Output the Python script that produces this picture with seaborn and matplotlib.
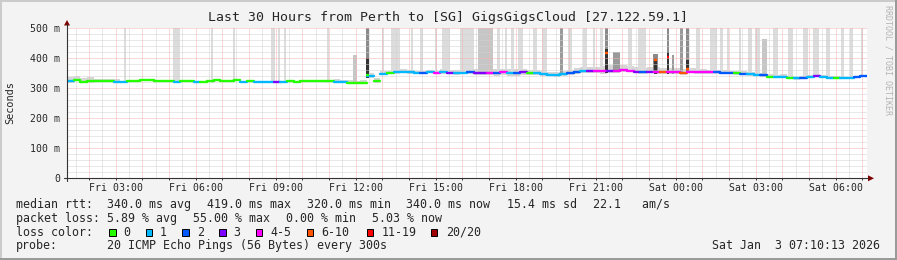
import numpy as np
import matplotlib
matplotlib.use("Agg")
import matplotlib.pyplot as plt
from matplotlib.patches import Rectangle, Polygon
from matplotlib.lines import Line2D
import seaborn as sns

# ---------------- data ----------------
T0 = 1 + 10 / 60 + 13 / 3600          # Fri 01:10:13, hours since Fri 00:00
SPAN_H = 30.0
STEP_H = 0.25                          # median sampled every 15 minutes

median_ms = [
    322, 326, 321, 322, 322, 322, 322, 321, 321, 322, 323, 327, 327, 323, 322, 322,
    320, 322, 322, 321, 321, 322, 327, 323, 322, 326, 320, 322, 320, 321, 320, 321,
    321, 322, 321, 322, 323, 322, 322, 322, 321, 320, 318, 317, 318, 340, 322, 348,
    350, 352, 354, 352, 350, 350, 353, 350, 352, 351, 350, 351, 355, 350, 350, 351,
    350, 352, 351, 350, 352, 350, 351, 347, 345, 344, 347, 350, 354, 356, 357, 356,
    356, 358, 358, 360, 358, 355, 352, 355, 353, 352, 352, 352, 350, 355, 354, 352,
    352, 352, 351, 350, 350, 348, 346, 344, 342, 338, 336, 338, 334, 332, 334, 336,
    340, 336, 334, 335, 334, 334, 336, 340]
loss_idx = [
    1, 0, 0, 0, 0, 0, 0, 1, 1, 0, 0, 0, 0, 0, 0, 0, 1, 0, 0, 1, 0, 0, 0, 0,
    0, 0, 1, 0, 1, 1, 1, 3, 1, 0, 0, 0, 0, 0, 0, 0, 1, 1, 0, 0, 0, 1, 0, 1,
    0, 1, 1, 1, 1, 2, 1, 4, 1, 3, 1, 1, 2, 3, 3, 4, 2, 4, 1, 2, 3, 0, 1, 1,
    1, 1, 1, 2, 2, 1, 3, 4, 4, 3, 4, 4, 4, 3, 2, 3, 4, 5, 4, 4, 5, 4, 4, 4,
    4, 2, 2, 2, 0, 2, 1, 1, 2, 0, 1, 1, 0, 1, 2, 1, 3, 1, 1, 0, 1, 1, 2, 2]
# hourly spread of the smoke around the median (ms above / below)
smoke_up = [14, 8, 4, 4, 3, 3, 3, 4, 3, 4, 8, 10, 8, 8, 10, 12, 12, 10, 10, 14,
            18, 14, 16, 12, 8, 8, 8, 6, 6, 4]
smoke_dn = [4, 3, 2, 2, 2, 2, 2, 2, 2, 2, 3, 5, 4, 4, 5, 6, 10, 8, 6, 6,
            8, 6, 6, 6, 4, 5, 4, 4, 3, 3]

# individual samples with outlier pings (smoke spikes)
spike_hour = [3.345, 5.277, 6.608, 7.433, 8.895, 9.120, 9.345, 10.946, 11.970, 12.439,
              13.020, 13.488, 14.107, 14.464, 15.008, 15.383, 16.170, 16.864, 17.351, 17.632,
              17.876, 18.176, 18.719, 19.076, 19.714, 20.033, 20.595, 20.933, 21.214, 21.401,
              21.776, 22.282, 22.732, 23.239, 23.707, 23.890, 24.213, 24.438, 24.832, 25.413,
              25.713, 25.957, 26.407, 26.782, 27.064, 27.326, 27.739, 28.301, 28.864, 29.258,
              29.708, 30.252, 30.590, 30.984]
spike_width_min = [5, 15, 5, 5, 10, 5, 5, 5, 10, 5,
                   5, 20, 5, 5, 5, 20, 30, 35, 5, 5,
                   5, 10, 10, 10, 5, 10, 10, 5, 5, 5,
                   15, 10, 20, 10, 5, 5, 5, 5, 10, 15,
                   5, 5, 5, 10, 10, 10, 10, 10, 10, 15,
                   10, 5, 5, 5]
spike_top = [520, 520, 520, 520, 520, 520, 520, 520, 410, 520,
             520, 520, 520, 520, 520, 520, 520, 520, 520, 520,
             520, 520, 520, 520, 520, 520, 520, 520, 520, 520,
             420, 520, 520, 415, 520, 410, 520, 520, 520, 520,
             520, 520, 520, 520, 520, 465, 520, 520, 520, 520,
             520, 520, 520, 520]
spike_shade = [0, 0, 0, 0, 0, 0, 0, 0, 1, 3,
               0, 0, 0, 0, 0, 0, 0, 1, 0, 0,
               0, 0, 0, 0, 2, 0, 0, 0, 0, 3,
               2, 0, 0, 3, 3, 2, 2, 3, 0, 0,
               0, 0, 0, 0, 0, 1, 0, 0, 0, 0,
               0, 0, 0, 0]
# dark-core samples: hour, core top (ms), median (ms), loss class
hot_hour = [12.439, 21.401, 23.239, 23.707, 24.438]
hot_core = [400, 430, 400, 420, 395]
hot_median = [345, 417, 393, 404, 362]
hot_loss = [0, 5, 5, 6, 5]

loss_colors = ["#26ff00", "#00b8ff", "#0059ff", "#7e00ff", "#ff00ff",
               "#ff5500", "#ff0000", "#a10000"]
loss_labels = ["0", "1", "2", "3", "4-5", "6-10", "11-19", "20/20"]
shade_colors = ["#dcdcdc", "#c6c6c6", "#9a9a9a", "#8a8a8a"]

xtick_hours = [3, 6, 9, 12, 15, 18, 21, 24, 27, 30]
xtick_labels = ["Fri 03:00", "Fri 06:00", "Fri 09:00", "Fri 12:00", "Fri 15:00",
                "Fri 18:00", "Fri 21:00", "Sat 00:00", "Sat 03:00", "Sat 06:00"]
ytick_vals = [0, 100, 200, 300, 400, 500]
ytick_labels = ["0", "100 m", "200 m", "300 m", "400 m", "500 m"]

title = "Last 30 Hours from Perth to [SG] GigsGigsCloud [27.122.59.1]"

# ---------------- style ----------------
sns.set_theme(style="white")
MONO = ["DejaVu Sans Mono"]
plt.rcParams["font.family"] = MONO

W, H = 897, 260
fig = plt.figure(figsize=(W / 100, H / 100), dpi=100)
fig.patch.set_facecolor("#f3f3f3")


def fx(x):
    return x / W


def fy(y):
    return 1 - y / H


AX_L, AX_T, AX_W, AX_H = 67, 28, 800, 150
ax = fig.add_axes([fx(AX_L), fy(AX_T + AX_H), AX_W / W, AX_H / H])
ax.set_facecolor("white")
ax.set_xlim(T0, T0 + SPAN_H)
ax.set_ylim(0, 500)
for s in ax.spines.values():
    s.set_visible(False)

med = np.array(median_ms, dtype=float)
lidx = np.array(loss_idx)
n = len(med)
edges = T0 + np.arange(n + 1) * STEP_H
up = np.repeat(smoke_up, 4)[:n]
dn = np.repeat(smoke_dn, 4)[:n]

# base smoke band
ax.fill_between(edges, np.append(med - dn, med[-1] - dn[-1]),
                np.append(med + up, med[-1] + up[-1]),
                step="post", color="#d6d6d6", linewidth=0, zorder=1)

# smoke spikes
for h, wmin, top, sh in zip(spike_hour, spike_width_min, spike_top, spike_shade):
    i = int(np.clip((h - T0) // STEP_H, 0, n - 1))
    base = med[i] - 4
    ax.bar(h, min(top, 505) - base, bottom=base, width=wmin / 60,
           color=shade_colors[sh], linewidth=0, zorder=1.2 + 0.1 * sh)
for h, core in zip(hot_hour, hot_core):
    i = int(np.clip((h - T0) // STEP_H, 0, n - 1))
    base = med[i] - 6
    ax.bar(h, core - base, bottom=base, width=5 / 60, color="#333333",
           linewidth=0, zorder=1.8)

# grid (drawn above smoke, under the median line)
dots = (0, (1, 1))
hours_all = np.arange(2, 32)
half_hours = np.arange(1.5, 31.5, 1.0)
gkw = dict(linewidth=0.72, linestyles=[dots])
ax.vlines(half_hours, 0, 500, colors="#d2d2d2", zorder=2, **gkw)
minor_y = [v for v in range(20, 501, 20) if v % 100]
ax.hlines(minor_y, T0, T0 + SPAN_H, colors="#d2d2d2", zorder=2, **gkw)
ax.vlines(hours_all, 0, 500, colors="#f5b2b2", zorder=2.1, **gkw)
ax.hlines(ytick_vals[1:], T0, T0 + SPAN_H, colors="#f5b2b2", zorder=2.1, **gkw)

# median line, coloured by loss
start = 0
for k in range(1, n + 1):
    if k == n or lidx[k] != lidx[start]:
        xs = list(edges[start:k + 1])
        ys = list(med[start:k]) + [med[k - 1]]
        sns.lineplot(x=xs, y=ys, ax=ax, color=loss_colors[lidx[start]],
                     drawstyle="steps-post", linewidth=1.7, sort=False,
                     estimator=None, zorder=3)
        start = k
for h, m, lc in zip(hot_hour, hot_median, hot_loss):
    ax.hlines(m, h - 2.5 / 60, h + 2.5 / 60, colors=loss_colors[lc], linewidth=1.7, zorder=3)

# ticks
ax.set_xticks(xtick_hours)
ax.set_xticklabels(xtick_labels, fontsize=7.1, family=MONO)
ax.set_xticks(hours_all, minor=True)
ax.tick_params(axis="x", which="both", length=1.6, width=0.7, color="#333333",
               direction="out", pad=2.2, bottom=True)
ax.set_yticks(ytick_vals)
ax.set_yticklabels(ytick_labels, fontsize=7.1, family=MONO)
ax.tick_params(axis="y", length=0, pad=5)
ax.set_xlabel("")
ax.set_ylabel("")
ax.grid(False)

# axes lines and arrows (figure pixel space)
axis_col = "#333333"
fig.add_artist(Line2D([fx(64), fx(868)], [fy(178.3), fy(178.3)], color=axis_col, linewidth=0.8))
fig.add_artist(Line2D([fx(67), fx(67)], [fy(181), fy(24)], color=axis_col, linewidth=0.8))
fig.add_artist(Polygon([[fx(64), fy(25.5)], [fx(70), fy(25.5)], [fx(67), fy(20)]],
                       closed=True, color="#7f0000", linewidth=0))
fig.add_artist(Polygon([[fx(868), fy(175.3)], [fx(868), fy(181.3)], [fx(874), fy(178.3)]],
                       closed=True, color="#7f0000", linewidth=0))

# title and side labels
fig.text(fx(448), fy(18), title, ha="center", va="center", fontsize=9.5, family=MONO)
fig.text(fx(10), fy(103), "Seconds", rotation=90, ha="center", va="center",
         fontsize=7.4, family=MONO)
fig.text(fx(887.5), fy(5), "RRDTOOL / TOBI OETIKER", rotation=270, ha="center", va="top",
         fontsize=6.0, family=MONO, color="#b4b4b4")

# legend rows
LF = 8.4
row1 = [("median rtt:", 16), ("340.0 ms avg", 107.3), ("419.0 ms max", 206.7),
        ("320.0 ms min", 306.7), ("340.0 ms now", 406.3), ("15.4 ms sd", 507.0),
        ("22.1   am/s", 592.5)]
row2 = [("packet loss:", 16), ("5.89 % avg", 107.3), ("55.00 % max", 193.0),
        ("0.00 % min", 286.0), ("5.03 % now", 371.5)]
for txt, x in row1:
    fig.text(fx(x), fy(204.3), txt, ha="left", va="center", fontsize=LF, family=MONO)
for txt, x in row2:
    fig.text(fx(x), fy(218.3), txt, ha="left", va="center", fontsize=LF, family=MONO)
fig.text(fx(16), fy(232.3), "loss color:", ha="left", va="center", fontsize=LF, family=MONO)
box_x = [109, 145.7, 182, 219, 255.7, 306.7, 366.7, 430.7]
lab_x = [123, 160, 196.7, 233, 270, 321.7, 381.7, 446]
for c, lab, bx, tx in zip(loss_colors, loss_labels, box_x, lab_x):
    fig.add_artist(Rectangle((fx(bx), fy(236)), 6.5 / W, 7.5 / H, facecolor=c,
                             edgecolor="black", linewidth=0.7))
    fig.text(fx(tx), fy(232.3), lab, ha="left", va="center", fontsize=LF, family=MONO)
fig.text(fx(16), fy(245.9), "probe:", ha="left", va="center", fontsize=LF, family=MONO)
fig.text(fx(107.3), fy(245.9), "20 ICMP Echo Pings (56 Bytes) every 300s", ha="left",
         va="center", fontsize=LF, family=MONO)
fig.text(fx(880), fy(245.9), "Sat Jan  3 07:10:13 2026", ha="right", va="center",
         fontsize=LF, family=MONO)

# 3-D style frame
fig.add_artist(Rectangle((0, fy(2)), 1, 2 / H, color="#cbcbcb", linewidth=0))
fig.add_artist(Rectangle((0, 0), 2 / W, 1, color="#cbcbcb", linewidth=0))
fig.add_artist(Rectangle((0, 0), 1, 2 / H, color="#9a9a9a", linewidth=0))
fig.add_artist(Rectangle((fx(895), 0), 2 / W, 1, color="#9a9a9a", linewidth=0))

fig.savefig("out.png", dpi=100, facecolor=fig.get_facecolor())
